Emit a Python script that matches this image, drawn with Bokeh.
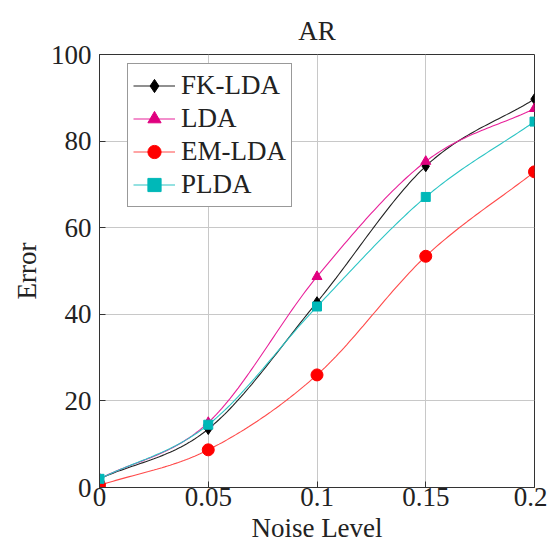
from bokeh.plotting import figure
from bokeh.models import Legend, LegendItem, FixedTicker, Range1d
from bokeh.embed import file_html
from bokeh.resources import INLINE
import numpy as np

noise = [0.0, 0.05, 0.1, 0.15, 0.2]
fk_lda = [2.0, 13.5, 42.8, 74.2, 89.7]
lda = [2.0, 15.0, 48.7, 75.3, 87.5]
em_lda = [0.5, 8.7, 26.0, 53.4, 72.9]
plda = [2.0, 14.5, 41.8, 67.1, 84.5]

x_ticks = [0, 0.05, 0.1, 0.15, 0.2]
x_tick_labels = ["0", "0.05", "0.1", "0.15", "0.2"]
y_ticks = [0, 20, 40, 60, 80, 100]

FONT = "'Liberation Serif', serif"


def smooth(xs, ys, n=40, tension=0.5):
    xs = np.asarray(xs, float)
    ys = np.asarray(ys, float)
    px = np.concatenate([[2 * xs[0] - xs[1]], xs, [2 * xs[-1] - xs[-2]]])
    py = np.concatenate([[2 * ys[0] - ys[1]], ys, [2 * ys[-1] - ys[-2]]])
    ox, oy = [], []
    for i in range(1, len(px) - 2):
        t = np.linspace(0, 1, n, endpoint=(i == len(px) - 3))
        m1x = tension * (px[i + 1] - px[i - 1])
        m2x = tension * (px[i + 2] - px[i])
        m1y = tension * (py[i + 1] - py[i - 1])
        m2y = tension * (py[i + 2] - py[i])
        h00 = 2 * t**3 - 3 * t**2 + 1
        h10 = t**3 - 2 * t**2 + t
        h01 = -2 * t**3 + 3 * t**2
        h11 = t**3 - t**2
        ox.extend(h00 * px[i] + h10 * m1x + h01 * px[i + 1] + h11 * m2x)
        oy.extend(h00 * py[i] + h10 * m1y + h01 * py[i + 1] + h11 * m2y)
    return ox, oy


p = figure(width=548, height=540, output_backend="svg", toolbar_location=None,
           x_range=Range1d(0, 0.2), y_range=Range1d(0, 100),
           frame_width=435, frame_height=433,
           min_border_left=99, min_border_right=13, min_border_top=54,
           min_border_bottom=0)

p.title.text = "AR"
p.title.align = "center"
p.title.text_font = FONT
p.title.text_font_size = "27px"
p.title.text_font_style = "normal"
p.title.text_color = "#222222"
p.title.standoff = 18

p.outline_line_color = "#333333"
p.outline_line_width = 1
p.background_fill_color = "white"
p.border_fill_color = "white"

for ax in [p.xaxis[0], p.yaxis[0]]:
    ax.major_label_text_font = FONT
    ax.major_label_text_font_size = "27px"
    ax.major_label_text_color = "#222222"
    ax.axis_label_text_font = FONT
    ax.axis_label_text_font_size = "27px"
    ax.axis_label_text_font_style = "normal"
    ax.axis_label_text_color = "#222222"
    ax.major_tick_in = 6
    ax.major_tick_out = 0
    ax.minor_tick_in = 0
    ax.minor_tick_out = 0
    ax.axis_line_color = "#333333"
    ax.major_tick_line_color = "#333333"

p.xaxis.ticker = FixedTicker(ticks=x_ticks)
p.xaxis.major_label_overrides = {t: l for t, l in zip(x_ticks, x_tick_labels)}
p.yaxis.ticker = FixedTicker(ticks=y_ticks)
p.xaxis.axis_label = "Noise Level"
p.yaxis.axis_label = "Error"
p.xaxis.axis_label_standoff = 4
p.yaxis.axis_label_standoff = 6
p.xaxis.major_label_standoff = 0
p.yaxis.major_label_standoff = 8

p.xgrid.ticker = FixedTicker(ticks=x_ticks)
p.ygrid.ticker = FixedTicker(ticks=y_ticks)
p.grid.grid_line_color = "#c8c8c8"
p.grid.grid_line_width = 1

series = [
    ("FK-LDA", fk_lda, "#222222", "#000000", "diamond", 11),
    ("LDA", lda, "#e8209a", "#e0007f", "triangle", 10),
    ("EM-LDA", em_lda, "#ff4a4a", "#ff0000", "circle", 12),
    ("PLDA", plda, "#2bc4c4", "#00b8b8", "square", 9),
]

items = []
for name, ys, lc, mc, marker, size in series:
    sx, sy = smooth(noise, ys)
    r1 = p.line(sx, sy, line_color=lc, line_width=1.1)
    r2 = p.scatter(noise, ys, marker=marker, size=size, fill_color=mc,
                   line_color=mc)
    items.append(LegendItem(label=name, renderers=[r1, r2]))

legend = Legend(items=items)
legend.label_text_font = FONT
legend.label_text_font_size = "27px"
legend.label_text_color = "#222222"
legend.border_line_color = "#333333"
legend.border_line_width = 1
legend.margin = 0
legend.padding = 5
legend.spacing = 0
legend.glyph_width = 42
legend.label_height = 33
legend.glyph_height = 33
legend.label_standoff = 6
legend.background_fill_alpha = 1
legend.location = (28, 280)
p.add_layout(legend)

open("out.html", "w").write(file_html(p, INLINE))
